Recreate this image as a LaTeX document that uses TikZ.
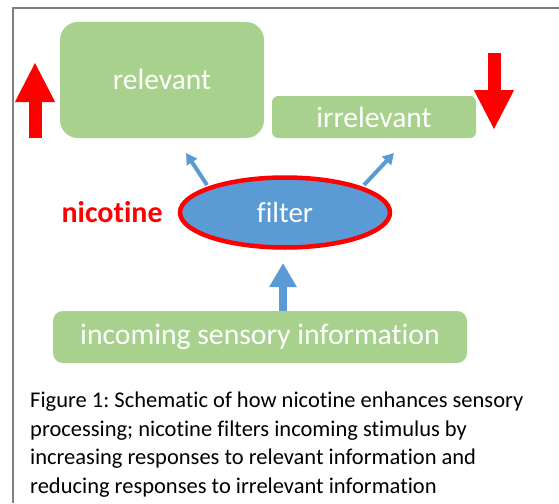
\documentclass[tikz,border=0pt]{standalone}
\usepackage{fontspec}
\setmainfont{Carlito}[Ligatures=NoCommon]
\usepackage{tikz}
\usetikzlibrary{positioning, shapes, arrows.meta}
\definecolor{boxgreen}{HTML}{A9D18E}
\definecolor{filterblue}{HTML}{5B9BD5}
\definecolor{framegray}{HTML}{7F7F7F}
\frenchspacing

\begin{document}
\begin{tikzpicture}[x=1pt, y=-1pt,
          info/.style={fill=boxgreen, text=white, inner sep=0pt},
          flow/.style={draw=filterblue, line width=4pt, -{Triangle[width=12pt,length=11pt]}},
          change/.style={draw=red, line width=13pt, -{Triangle[width=37pt,length=40pt]}}]
        \useasboundingbox (0,0) rectangle (559,503);
        \draw[framegray, line width=1.2pt] (13,503) -- (13,8) -- (559,8);
        \node[info, rounded corners=18pt, minimum width=204pt, minimum height=116pt,
              font=\fontsize{29.5}{33}\selectfont] (relevant) at (162,80) {\raisebox{2pt}{relevant}};
        \node[info, rounded corners=6pt, minimum width=204pt, minimum height=42pt,
              font=\fontsize{29.5}{33}\selectfont] (irrelevant) at (374,117) {irrelevant};
        \node[ellipse, draw=red, line width=4.5pt, fill=filterblue, text=white, inner sep=0pt,
              minimum width=210pt, minimum height=70pt,
              font=\fontsize{29}{33}\selectfont] (filter) at (285,212.5) {filter};
        \node[text=red, font=\bfseries\fontsize{30}{34}\selectfont, inner sep=0pt] (nicotine) [left=15pt of filter] {nicotine};
        \node[info, rounded corners=10pt, minimum width=414pt, minimum height=52pt,
              font=\fontsize{29.7}{34}\selectfont] (incoming) at (260,337) {incoming sensory information};
        \coordinate (upL) at (186,153);
        \coordinate (upR) at (394,153);
        \coordinate (inTip) at (283,263);
        \draw[flow] (207,185) -- (upL);
        \draw[flow] (364,185) -- (upR);
        \draw[flow, line width=8pt, -{Triangle[width=26pt,length=24pt]}] (incoming.north -| inTip) -- (inTip);
        \coordinate (riseTop) at (35,62);
        \coordinate (fallTip) at (494,130);
        \draw[change] (35,138) -- (riseTop);
        \draw[change] (494,53) -- (fallTip);
        \node[anchor=base west, align=left, inner sep=0pt,
              font=\fontsize{22.5}{28.5}\selectfont] (caption) at (30,493)
              {Figure 1: Schematic of how nicotine enhances sensory\\
               processing; nicotine filters incoming stimulus by\\
               increasing responses to relevant information and\\
               reducing responses to irrelevant information};
      \end{tikzpicture}
\end{document}
